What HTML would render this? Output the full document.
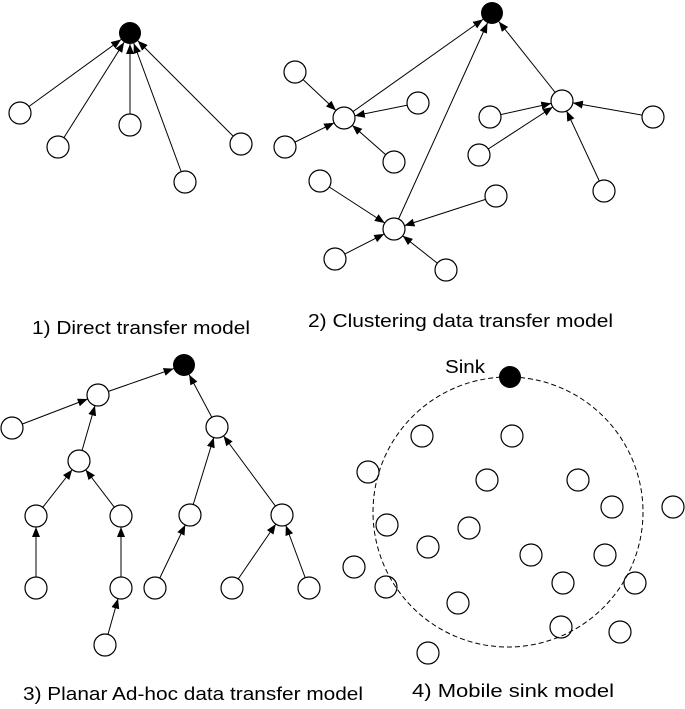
<!DOCTYPE html>
<html><head><meta charset="utf-8"><style>
html,body{margin:0;padding:0;background:#fff;}
svg{display:block;}
text{font-family:"Liberation Sans",Arial,sans-serif;font-size:18px;fill:#000;}
</style></head><body>
<svg width="685" height="709" viewBox="0 0 685 709" xmlns="http://www.w3.org/2000/svg">
<defs>
<marker id="a" markerUnits="userSpaceOnUse" markerWidth="12" markerHeight="10" refX="21" refY="4" orient="auto">
<path d="M0,0 L10,4 L0,8 z" fill="#000"/>
</marker>
</defs>
<g stroke="#000" stroke-width="1" marker-end="url(#a)">
<line x1="20" y1="113" x2="130" y2="33"/>
<line x1="58" y1="147" x2="130" y2="33"/>
<line x1="130" y1="125" x2="130" y2="33"/>
<line x1="185" y1="182" x2="130" y2="33"/>
<line x1="241" y1="144" x2="130" y2="33"/>
<line x1="344" y1="118" x2="492" y2="13"/>
<line x1="394" y1="229" x2="492" y2="13"/>
<line x1="562" y1="101" x2="492" y2="13"/>
<line x1="295" y1="72" x2="344" y2="118"/>
<line x1="418" y1="103" x2="344" y2="118"/>
<line x1="285" y1="147" x2="344" y2="118"/>
<line x1="394" y1="162" x2="344" y2="118"/>
<line x1="490" y1="117" x2="562" y2="101"/>
<line x1="479" y1="155" x2="562" y2="101"/>
<line x1="653" y1="117" x2="562" y2="101"/>
<line x1="604" y1="191" x2="562" y2="101"/>
<line x1="320" y1="181" x2="394" y2="229"/>
<line x1="496" y1="196" x2="394" y2="229"/>
<line x1="335" y1="259" x2="394" y2="229"/>
<line x1="446" y1="270" x2="394" y2="229"/>
<line x1="98" y1="395" x2="184" y2="365"/>
<line x1="12" y1="428" x2="98" y2="395"/>
<line x1="79" y1="461" x2="98" y2="395"/>
<line x1="36" y1="516" x2="79" y2="461"/>
<line x1="121" y1="516" x2="79" y2="461"/>
<line x1="36" y1="588" x2="36" y2="516"/>
<line x1="121" y1="588" x2="121" y2="516"/>
<line x1="105" y1="645" x2="121" y2="588"/>
<line x1="217" y1="427" x2="184" y2="365"/>
<line x1="190" y1="515" x2="217" y2="427"/>
<line x1="282" y1="515" x2="217" y2="427"/>
<line x1="155" y1="588" x2="190" y2="515"/>
<line x1="232" y1="588" x2="282" y2="515"/>
<line x1="309" y1="588" x2="282" y2="515"/>
</g>
<circle cx="508" cy="512" r="135" fill="none" stroke="#000" stroke-width="1" stroke-dasharray="5,3"/>
<g fill="#000">
<circle cx="130" cy="33" r="11"/>
<circle cx="492" cy="13" r="11"/>
<circle cx="184" cy="365" r="11"/>
<circle cx="510" cy="377" r="11"/>
</g>
<g fill="#fff" stroke="#000" stroke-width="1.2">
<circle cx="20" cy="113" r="11"/><circle cx="58" cy="147" r="11"/><circle cx="130" cy="125" r="11"/><circle cx="185" cy="182" r="11"/><circle cx="241" cy="144" r="11"/>
<circle cx="344" cy="118" r="11"/><circle cx="562" cy="101" r="11"/><circle cx="394" cy="229" r="11"/>
<circle cx="295" cy="72" r="11"/><circle cx="418" cy="103" r="11"/><circle cx="285" cy="147" r="11"/><circle cx="394" cy="162" r="11"/>
<circle cx="490" cy="117" r="11"/><circle cx="479" cy="155" r="11"/><circle cx="653" cy="117" r="11"/><circle cx="604" cy="191" r="11"/>
<circle cx="320" cy="181" r="11"/><circle cx="496" cy="196" r="11"/><circle cx="335" cy="259" r="11"/><circle cx="446" cy="270" r="11"/>
<circle cx="98" cy="395" r="11"/><circle cx="12" cy="428" r="11"/><circle cx="79" cy="461" r="11"/><circle cx="36" cy="516" r="11"/><circle cx="121" cy="516" r="11"/>
<circle cx="36" cy="588" r="11"/><circle cx="121" cy="588" r="11"/><circle cx="105" cy="645" r="11"/><circle cx="217" cy="427" r="11"/><circle cx="190" cy="515" r="11"/>
<circle cx="282" cy="515" r="11"/><circle cx="155" cy="588" r="11"/><circle cx="232" cy="588" r="11"/><circle cx="309" cy="588" r="11"/>
</g>
<g fill="none" stroke="#000" stroke-width="1.2">
<circle cx="422" cy="436" r="11"/><circle cx="512" cy="436" r="11"/><circle cx="368" cy="472" r="11"/><circle cx="487" cy="480" r="11"/><circle cx="578" cy="480" r="11"/>
<circle cx="612" cy="507" r="11"/><circle cx="673" cy="507" r="11"/><circle cx="387" cy="525" r="11"/><circle cx="469" cy="528" r="11"/><circle cx="428" cy="547" r="11"/>
<circle cx="531" cy="555" r="11"/><circle cx="605" cy="555" r="11"/><circle cx="354" cy="567" r="11"/><circle cx="386" cy="587" r="11"/><circle cx="563" cy="583" r="11"/>
<circle cx="635" cy="583" r="11"/><circle cx="458" cy="603" r="11"/><circle cx="561" cy="627" r="11"/><circle cx="620" cy="632" r="11"/><circle cx="428" cy="653" r="11"/>
</g>
<text x="32" y="334" textLength="218" lengthAdjust="spacingAndGlyphs">1) Direct transfer model</text>
<text x="308" y="327" textLength="305" lengthAdjust="spacingAndGlyphs">2) Clustering data transfer model</text>
<text x="23" y="700" textLength="340" lengthAdjust="spacingAndGlyphs">3) Planar Ad-hoc data transfer model</text>
<text x="412" y="697" textLength="202" lengthAdjust="spacingAndGlyphs">4) Mobile sink model</text>
<text x="445" y="373" textLength="40" lengthAdjust="spacingAndGlyphs">Sink</text>
</svg>
</body></html>
